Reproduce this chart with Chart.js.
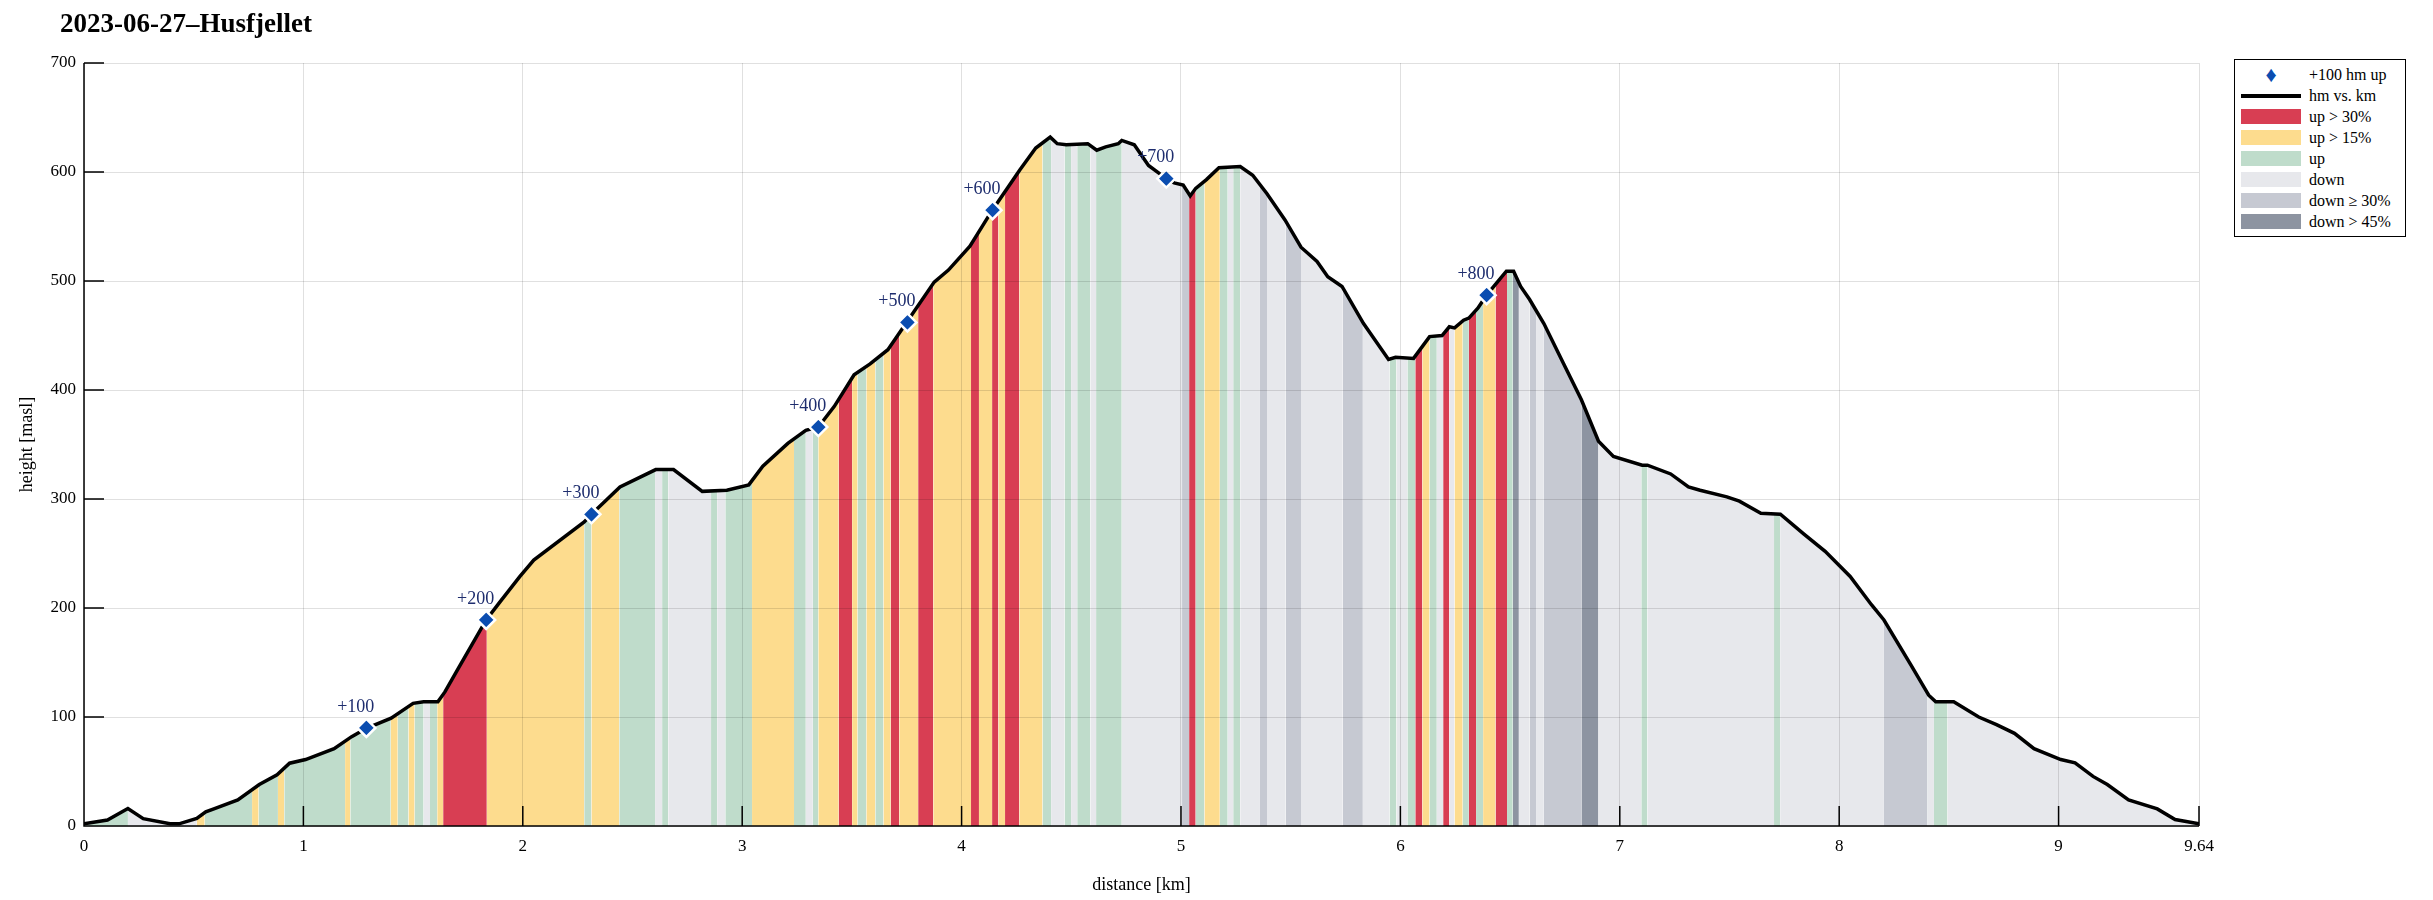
<!DOCTYPE html>
<html>
<head>
<meta charset="utf-8">
<script src="https://cdn.jsdelivr.net/npm/chart.js@4.4.0/dist/chart.umd.min.js"></script>
<style>
  body { margin: 0; background: #fff; font-family: "Liberation Serif", serif; }
  #wrap { position: relative; width: 2433px; height: 900px; }
  #c { position: absolute; left: 0; top: 0; }
  #title { position: absolute; left: 60px; top: 8px; font-size: 27px; font-weight: bold; }
  #legend { position: absolute; left: 2234px; top: 59px; width: 170px; border: 1px solid #000;
            background: #fff; padding: 4px 0 4px 0; font-size: 16px; }
  #legend div { height: 21px; line-height: 21px; display: flex; align-items: center; }
  #legend span.sw { display: inline-block; width: 60px; margin: 0 8px 0 6px; height: 15px; }
</style>
</head>
<body>
<div id="wrap">
  <canvas id="c" width="2433" height="900"></canvas>
  <div id="title">2023-06-27–Husfjellet</div>
  <div id="legend"></div>
</div>
<script>
// elevation profile (km, masl)
const distKm = [0,0.107,0.2,0.27,0.392,0.433,0.514,0.555,0.595,0.701,0.799,0.88,0.937,1.01,1.14,1.22,1.287,1.4,1.5,1.548,1.613,1.645,1.71,1.833,1.89,1.987,2.05,2.28,2.313,2.443,2.606,2.687,2.818,2.93,3.03,3.094,3.208,3.29,3.347,3.42,3.51,3.583,3.664,3.753,3.875,3.94,4.038,4.14,4.266,4.338,4.404,4.436,4.477,4.575,4.616,4.657,4.714,4.73,4.787,4.852,4.933,4.969,5.01,5.042,5.067,5.116,5.173,5.27,5.327,5.392,5.474,5.547,5.62,5.669,5.734,5.832,5.946,5.978,6.06,6.133,6.19,6.223,6.247,6.288,6.312,6.353,6.393,6.483,6.516,6.548,6.589,6.654,6.744,6.825,6.903,6.971,7.102,7.126,7.232,7.313,7.366,7.488,7.545,7.643,7.732,7.838,7.936,8.05,8.147,8.204,8.326,8.408,8.44,8.522,8.636,8.717,8.799,8.888,9.01,9.075,9.157,9.222,9.319,9.45,9.531,9.64];
const heightM = [2,5.5,16,6.7,2,2,7,13,16,24,38,47,57.6,61,71,82,89.6,99,112.5,114,114,123,146,189,204,229,244,279,286,311,327,327,307,308,313,330,351,363,366,385,414,424,437,463,499,510,532,565,602,622,632,626,625,626,620,623,626,629,625,606,594,590,588,578,585,593,604,605,597,580,556,531,518,504,495,461,428,430,429,449,450,458,457,464,466,475,487,509,509,495,483,461,424,391,353,339,331,331,323,311,308,302,298,287,286,268,252,229,203,189,148,120,114,114,100,93,85,71,61,58,45.5,38,24,15.7,5.9,2];

// grade bands: start km and class (G up, Y up>15%, R up>30%, D down, S down>=30%, K down>45%)
const bandStart = [0,0.2,0.514,0.55,0.766,0.796,0.884,0.913,1.19,1.214,1.398,1.43,1.479,1.507,1.548,1.577,1.61,1.637,1.836,2.28,2.313,2.44,2.603,2.635,2.663,2.858,2.886,2.923,3.045,3.236,3.29,3.322,3.347,3.44,3.501,3.526,3.566,3.607,3.644,3.677,3.716,3.802,3.871,4.043,4.079,4.139,4.168,4.198,4.263,4.369,4.408,4.47,4.499,4.527,4.587,4.613,4.73,5.005,5.037,5.067,5.107,5.177,5.213,5.238,5.27,5.36,5.392,5.477,5.547,5.737,5.829,5.951,5.982,6.032,6.068,6.1,6.133,6.166,6.195,6.223,6.247,6.284,6.312,6.345,6.377,6.434,6.486,6.512,6.54,6.589,6.621,6.654,6.825,6.903,7.098,7.126,7.703,7.731,8.204,8.403,8.432,8.494,9.64];
const bandCat = ['G','D','Y','G','Y','G','Y','G','Y','G','Y','G','Y','G','D','G','Y','R','Y','G','Y','G','D','G','D','G','D','G','Y','G','D','G','Y','R','Y','G','Y','G','Y','R','Y','R','Y','R','Y','R','Y','R','Y','G','D','G','D','G','D','G','D','S','R','G','Y','G','D','G','D','S','D','S','D','S','D','G','D','G','R','Y','G','D','R','D','Y','G','R','G','Y','R','G','K','D','S','D','S','K','D','G','D','G','D','S','D','G','D'];

// +100 hm markers
const markKm = [1.287,1.833,2.313,3.347,3.753,4.141,4.933,6.393];
const markH = [90,189,286,366,462,565,594,487];
const markLabel = ['+100','+200','+300','+400','+500','+600','+700','+800'];

const xTicks = [0,1,2,3,4,5,6,7,8,9,9.64];

const catColor = { R:'#d83e53', Y:'#fddc8e', G:'#bfdccb', D:'#e7e8ec', S:'#c6c9d2', K:'#8d94a1' };
const catName = [['R','up > 30%'],['Y','up > 15%'],['G','up'],['D','down'],['S','down \u2265 30%'],['K','down > 45%']];

const profile = distKm.map((d, i) => ({ x: d, y: heightM[i] }));
const bands = bandStart.map(d => ({ x: d, y: 700 }));
const marks = markKm.map((d, i) => ({ x: d, y: markH[i] }));

// legend
const lg = document.getElementById('legend');
lg.innerHTML = '<div><span class="sw" style="height:auto;text-align:center;color:#0b4db0;font-size:22px">&#9830;</span>+100 hm up</div>' +
  '<div><span class="sw" style="height:4px;background:#000"></span>hm vs. km</div>' +
  catName.map(c => '<div><span class="sw" style="background:' + catColor[c[0]] + '"></span>' + c[1] + '</div>').join('');

const font = { family: '"Liberation Serif", serif', size: 17 };

const markLabels = {
  id: 'markLabels',
  afterDatasetsDraw(chart) {
    const ctx = chart.ctx, xs = chart.scales.x, ys = chart.scales.y, a = chart.chartArea;
    ctx.save();
    ctx.fillStyle = '#1e2d6e';
    ctx.font = '18px "Liberation Serif", serif';
    ctx.textAlign = 'right';
    ctx.textBaseline = 'bottom';
    markKm.forEach((d, i) => ctx.fillText(markLabel[i], xs.getPixelForValue(d) + 8, ys.getPixelForValue(markH[i]) - 12));
    // axis lines and inward ticks
    ctx.strokeStyle = '#000';
    ctx.lineWidth = 1.5;
    ctx.beginPath();
    ctx.moveTo(a.left, a.top); ctx.lineTo(a.left, a.bottom); ctx.lineTo(a.right, a.bottom);
    xTicks.forEach(v => { const px = xs.getPixelForValue(v); ctx.moveTo(px, a.bottom); ctx.lineTo(px, a.bottom - 20); });
    for (let v = 0; v <= 700; v += 100) { const py = ys.getPixelForValue(v); ctx.moveTo(a.left, py); ctx.lineTo(a.left + 20, py); }
    ctx.stroke();
    ctx.restore();
  }
};

new Chart(document.getElementById('c'), {
  type: 'line',
  data: {
    datasets: [
      { data: marks, showLine: false, pointStyle: 'rectRot', pointRadius: 9, pointBackgroundColor: '#0b4db0',
        pointBorderColor: '#fff', pointBorderWidth: 2.5, order: 0 },
      { data: profile, borderColor: '#000', borderWidth: 3.5, pointRadius: 0, tension: 0,
        fill: 'end', backgroundColor: '#fff', order: 1 },
      { data: bands, borderWidth: 0, pointRadius: 0, fill: 'origin', order: 2,
        segment: { backgroundColor: c => catColor[bandCat[c.p0DataIndex]] } }
    ]
  },
  options: {
    responsive: false,
    animation: false,
    layout: { padding: { left: 0, top: 63, right: 234, bottom: 0 } },
    plugins: { legend: { display: false }, tooltip: { enabled: false } },
    scales: {
      x: {
        type: 'linear', min: 0, max: 9.64,
        afterBuildTicks: s => { s.ticks = xTicks.map(v => ({ value: v })); },
        afterFit: s => { s.height = 74; },
        ticks: { font, color: '#000', autoSkip: false, maxRotation: 0, padding: 10, callback: v => String(v) },
        grid: { color: 'rgba(0,0,0,0.12)', z: 1, drawTicks: false },
        border: { display: false },
        title: { display: true, text: 'distance [km]', font: { family: font.family, size: 18 }, color: '#000', padding: { top: 2 } }
      },
      y: {
        min: 0, max: 700,
        afterFit: s => { s.width = 84; },
        ticks: { stepSize: 100, font, color: '#000', padding: 8 },
        grid: { color: 'rgba(0,0,0,0.12)', z: 1, drawTicks: false },
        border: { display: false },
        title: { display: true, text: 'height [masl]', font: { family: font.family, size: 18 }, color: '#000', padding: { top: 16, bottom: 0 } }
      }
    }
  },
  plugins: [markLabels]
});
</script>
</body>
</html>
